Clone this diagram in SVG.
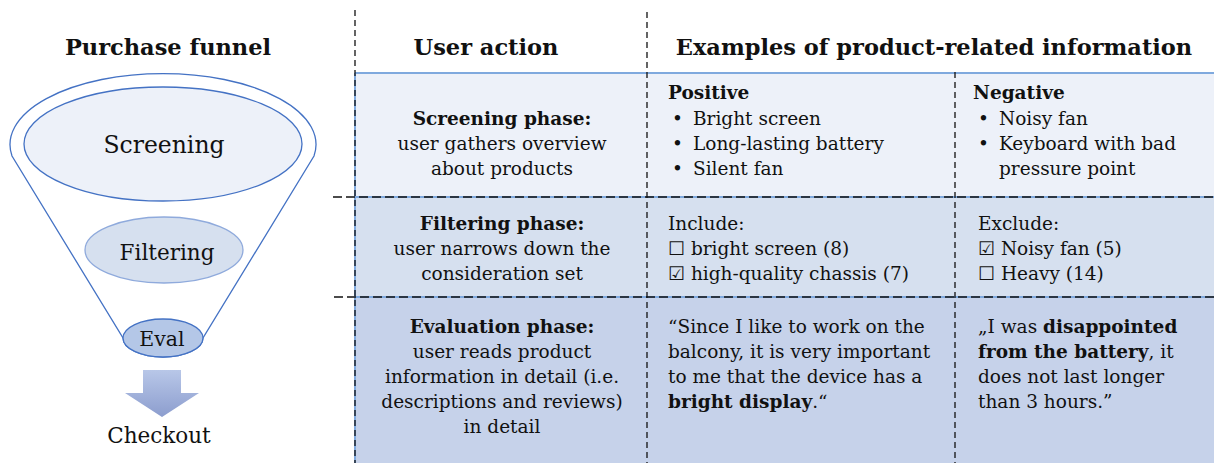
<svg xmlns="http://www.w3.org/2000/svg" width="1214" height="463" viewBox="0 0 1214 463">
  <defs>
    <linearGradient id="arrowGrad" x1="0" y1="0" x2="0" y2="1">
      <stop offset="0" stop-color="#b8c7e8"/>
      <stop offset="1" stop-color="#8c9dce"/>
    </linearGradient>
    <style>
      text { font-family: "DejaVu Serif", "Liberation Serif", serif; fill: #111; }
      .hd { font-size: 22.5px; font-weight: bold; }
      .body { font-size: 18.5px; }
      .b { font-weight: bold; }
      .mid { text-anchor: middle; }
      .vdash { stroke: #111; stroke-width: 1.3; stroke-dasharray: 6 4; fill: none; }
      .hdash { stroke: #111; stroke-width: 1.6; stroke-dasharray: 9 4; fill: none; }
      .blueline { stroke: #7fa9de; stroke-width: 2; fill: none; }
      .funnelLine { stroke: #4472c4; stroke-width: 1.3; }
    </style>
  </defs>
  <rect width="1214" height="463" fill="#ffffff"/>

  <!-- table row bands -->
  <g id="rows">
    <rect x="355" y="73" width="859" height="124" fill="#edf1f9"/>
    <rect x="355" y="197" width="859" height="100" fill="#d6e0ef"/>
    <rect x="355" y="297" width="859" height="166" fill="#c6d2ea"/>
    <line class="blueline" x1="355" y1="73" x2="1214" y2="73"/>
    <line class="blueline" x1="355" y1="197" x2="1214" y2="197"/>
    <line class="blueline" x1="355" y1="297" x2="1214" y2="297"/>
    <line class="blueline" x1="355" y1="73" x2="355" y2="463"/>
  </g>

  <!-- grid lines -->
  <g id="grid">
    <line class="vdash" x1="355" y1="10" x2="355" y2="463"/>
    <line class="vdash" x1="647" y1="12" x2="647" y2="463"/>
    <line class="vdash" x1="955" y1="72" x2="955" y2="463"/>
    <line class="hdash" x1="333" y1="197" x2="1214" y2="197"/>
    <line class="hdash" x1="334" y1="297" x2="1214" y2="297"/>
  </g>

  <!-- column headers -->
  <g id="headers">
    <text class="hd mid" x="168" y="55">Purchase funnel</text>
    <text class="hd mid" x="486" y="55">User action</text>
    <text class="hd mid" x="934" y="55">Examples of product-related information</text>
  </g>

  <!-- funnel -->
  <g id="funnel">
    <path class="funnelLine" fill="#ffffff" d="M 12 156 A 153 71 0 1 1 314 156 L 203 338 A 40 19 0 0 1 123 338 Z"/>
  </g>
  <g id="node-screening">
    <ellipse cx="163" cy="144" rx="139" ry="57" fill="#edf1f9" stroke="#4472c4" stroke-width="1.3"/>
    <text class="mid" x="164" y="153" font-size="23.5">Screening</text>
  </g>
  <g id="node-filtering">
    <ellipse cx="164" cy="250" rx="79" ry="33" fill="#d6e0ef" stroke="#8faadc" stroke-width="1.3"/>
    <text class="mid" x="167" y="260" font-size="21.5">Filtering</text>
  </g>
  <g id="node-eval">
    <ellipse cx="163" cy="338" rx="40" ry="19" fill="#b4c7e7" stroke="#4472c4" stroke-width="1.3"/>
    <text class="mid" x="162" y="346" font-size="20.5">Eval</text>
  </g>
  <g id="node-checkout">
    <path fill="url(#arrowGrad)" d="M 143 370 L 181 370 L 181 393 L 199 393 L 162 417 L 125 393 L 143 393 Z"/>
    <text class="mid" x="159" y="443" font-size="21.5">Checkout</text>
  </g>

  <!-- row 1: screening -->
  <g id="row-screening">
    <text class="b mid body" x="502" y="125">Screening phase:</text>
    <text class="mid body" x="502" y="150">user gathers overview</text>
    <text class="mid body" x="502" y="175">about products</text>

    <text class="b body" x="668" y="99">Positive</text>
    <text class="body" x="672" y="125">•</text>
    <text class="body" x="693" y="125">Bright screen</text>
    <text class="body" x="672" y="150">•</text>
    <text class="body" x="693" y="150">Long-lasting battery</text>
    <text class="body" x="672" y="175">•</text>
    <text class="body" x="693" y="175">Silent fan</text>

    <text class="b body" x="973" y="99">Negative</text>
    <text class="body" x="978" y="125">•</text>
    <text class="body" x="999" y="125">Noisy fan</text>
    <text class="body" x="978" y="150">•</text>
    <text class="body" x="999" y="150">Keyboard with bad</text>
    <text class="body" x="999" y="175">pressure point</text>
  </g>

  <!-- row 2: filtering -->
  <g id="row-filtering">
    <text class="b mid body" x="502" y="230">Filtering phase:</text>
    <text class="mid body" x="502" y="255">user narrows down the</text>
    <text class="mid body" x="502" y="280">consideration set</text>

    <text class="body" x="668" y="230">Include:</text>
    <text class="body" x="668" y="255">☐ bright screen (8)</text>
    <text class="body" x="668" y="280">☑ high-quality chassis (7)</text>

    <text class="body" x="978" y="230">Exclude:</text>
    <text class="body" x="978" y="255">☑ Noisy fan (5)</text>
    <text class="body" x="978" y="280">☐ Heavy (14)</text>
  </g>

  <!-- row 3: evaluation -->
  <g id="row-evaluation">
    <text class="b mid body" x="502" y="333">Evaluation phase:</text>
    <text class="mid body" x="502" y="358">user reads product</text>
    <text class="mid body" x="502" y="383">information in detail (i.e.</text>
    <text class="mid body" x="502" y="408">descriptions and reviews)</text>
    <text class="mid body" x="502" y="433">in detail</text>

    <text class="body" x="668" y="333">“Since I like to work on the</text>
    <text class="body" x="668" y="358">balcony, it is very important</text>
    <text class="body" x="668" y="383">to me that the device has a</text>
    <text class="body" x="668" y="408"><tspan class="b">bright display</tspan>.“</text>

    <text class="body" x="978" y="333">„I was <tspan class="b">disappointed</tspan></text>
    <text class="body" x="978" y="358"><tspan class="b">from the battery</tspan>, it</text>
    <text class="body" x="978" y="383">does not last longer</text>
    <text class="body" x="978" y="408">than 3 hours.”</text>
  </g>
</svg>
